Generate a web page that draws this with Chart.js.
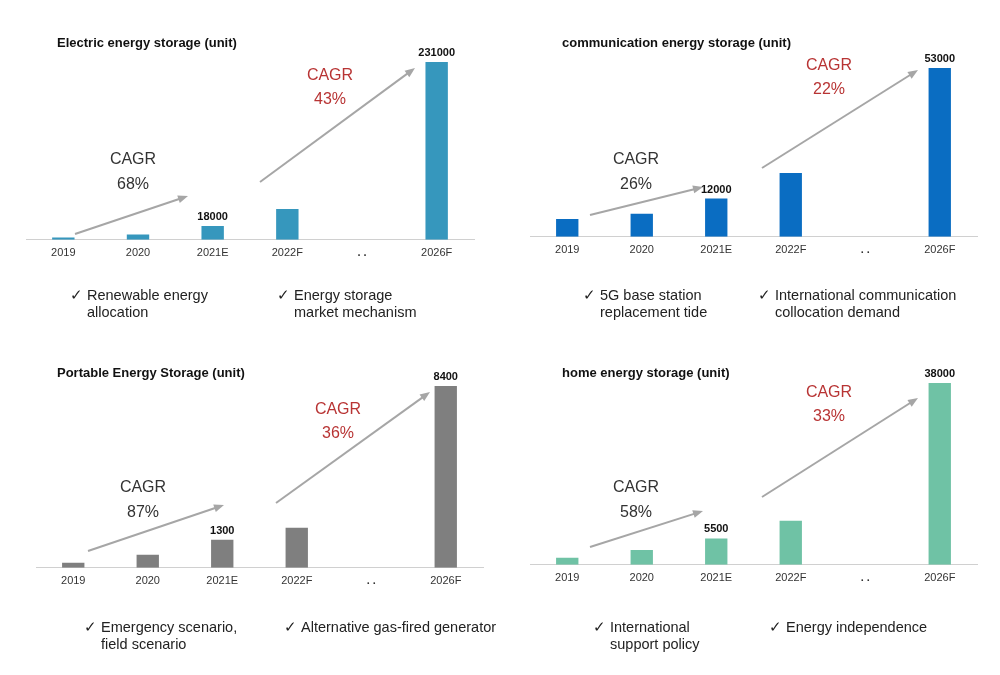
<!DOCTYPE html>
<html><head><meta charset="utf-8">
<script src="https://cdn.jsdelivr.net/npm/chart.js@4"></script>
<style>
body{margin:0;width:1000px;height:675px;background:#fff;position:relative;overflow:hidden;font-family:"Liberation Sans",Arial,sans-serif;}
canvas{position:absolute;left:0;top:0;}
.t{position:absolute;font-weight:bold;font-size:13px;color:#111;}
.b{position:absolute;font-size:14.5px;color:#222;line-height:17px;}
.b span{display:inline-block;width:17px;}
</style></head><body>
<canvas id="c0" width="1000" height="675"></canvas>
<canvas id="c1" width="1000" height="675"></canvas>
<canvas id="c2" width="1000" height="675"></canvas>
<canvas id="c3" width="1000" height="675"></canvas>
<div class="t" style="left:57px;top:35px">Electric energy storage (unit)</div>
<div class="t" style="left:562px;top:35px">communication energy storage (unit)</div>
<div class="t" style="left:57px;top:365px">Portable Energy Storage (unit)</div>
<div class="t" style="left:562px;top:365px">home energy storage (unit)</div>
<div class="b" style="left:70px;top:287px"><span>✓</span>Renewable energy<br><span></span>allocation</div>
<div class="b" style="left:277px;top:287px"><span>✓</span>Energy storage<br><span></span>market mechanism</div>
<div class="b" style="left:583px;top:287px"><span>✓</span>5G base station<br><span></span>replacement tide</div>
<div class="b" style="left:758px;top:287px"><span>✓</span>International communication<br><span></span>collocation demand</div>
<div class="b" style="left:84px;top:619px"><span>✓</span>Emergency scenario,<br><span></span>field scenario</div>
<div class="b" style="left:284px;top:619px"><span>✓</span>Alternative gas-fired generator</div>
<div class="b" style="left:593px;top:619px"><span>✓</span>International<br><span></span>support policy</div>
<div class="b" style="left:769px;top:619px"><span>✓</span>Energy independence</div>
<script>
const categories = ['2019','2020','2021E','2022F','. .','2026F'];
const electricValues = [3000, 7000, 18000, 40000, null, 231000];
const communicationValues = [5600, 7200, 12000, 20000, null, 53000];
const portableValues = [230, 600, 1300, 1850, null, 8400];
const homeValues = [1460, 3100, 5500, 9200, null, 38000];
const labeledIndexes = [2, 5];
const cagrSmall = ['68%','26%','87%','58%'];
const cagrBig = ['43%','22%','36%','33%'];

const panels = [
 {values:electricValues,color:'#3697bd',l:26,r:474,t:62,b:240,
  a1:[75,234,188,196],a2:[260,182,415,68],s:[133,160],g:[330,76]},
 {values:communicationValues,color:'#0a6dc2',l:530,r:977,t:68,b:237,
  a1:[590,215,703,187],a2:[762,168,918,70],s:[636,160],g:[829,66]},
 {values:portableValues,color:'#7f7f7f',l:36,r:483,t:386,b:568,
  a1:[88,551,224,505],a2:[276,503,430,392],s:[143,488],g:[338,410]},
 {values:homeValues,color:'#6fc2a5',l:530,r:977,t:383,b:565,
  a1:[590,547,703,511],a2:[762,497,918,398],s:[636,488],g:[829,393]}
];
function arrow(ctx,x1,y1,x2,y2){
  ctx.save();ctx.strokeStyle='#a6a6a6';ctx.fillStyle='#a6a6a6';ctx.lineWidth=2;
  const ang=Math.atan2(y2-y1,x2-x1);
  ctx.beginPath();ctx.moveTo(x1,y1);ctx.lineTo(x2-7*Math.cos(ang),y2-7*Math.sin(ang));ctx.stroke();
  ctx.beginPath();ctx.moveTo(x2,y2);
  ctx.lineTo(x2-10*Math.cos(ang)+4*Math.sin(ang),y2-10*Math.sin(ang)-4*Math.cos(ang));
  ctx.lineTo(x2-10*Math.cos(ang)-4*Math.sin(ang),y2-10*Math.sin(ang)+4*Math.cos(ang));
  ctx.closePath();ctx.fill();ctx.restore();
}
panels.forEach((p,i)=>{
  const max=Math.max(...p.values.filter(v=>v!=null));
  new Chart(document.getElementById('c'+i),{
    type:'bar',
    data:{labels:categories,datasets:[{data:p.values,backgroundColor:p.color,barPercentage:0.3,categoryPercentage:1}]},
    options:{responsive:false,animation:false,
      layout:{padding:{left:p.l,right:1000-p.r,top:p.t,bottom:675-p.b-27}},
      plugins:{legend:{display:false},tooltip:{enabled:false}},
      scales:{
        y:{display:false,min:0,max:max},
        x:{grid:{display:false,drawTicks:false},border:{color:'#d0d0d0',width:1},
           ticks:{padding:7,color:'#333',font:(c)=>({family:'Liberation Sans',size:11,weight:c.index===4?'bold':'normal'})}}
      }},
    plugins:[{id:'ann',afterDatasetsDraw(ch){
      const ctx=ch.ctx,xs=ch.scales.x,ys=ch.scales.y;
      ctx.save();
      ctx.textAlign='center';ctx.textBaseline='alphabetic';
      ctx.font='bold 11px "Liberation Sans"';ctx.fillStyle='#111';
      labeledIndexes.forEach(k=>{
        ctx.fillText(String(p.values[k]),xs.getPixelForValue(k),ys.getPixelForValue(p.values[k])-6);
      });
      arrow(ctx,...p.a1);arrow(ctx,...p.a2);
      ctx.textBaseline='middle';ctx.font='16px "Liberation Sans"';ctx.fillStyle='#333';
      ctx.fillText('CAGR',p.s[0],p.s[1]);ctx.fillText(cagrSmall[i],p.s[0],p.s[1]+25);
      ctx.fillStyle='#b83434';
      ctx.fillText('CAGR',p.g[0],p.g[1]);ctx.fillText(cagrBig[i],p.g[0],p.g[1]+24);
      ctx.restore();
    }}]
  });
});
</script></body></html>
